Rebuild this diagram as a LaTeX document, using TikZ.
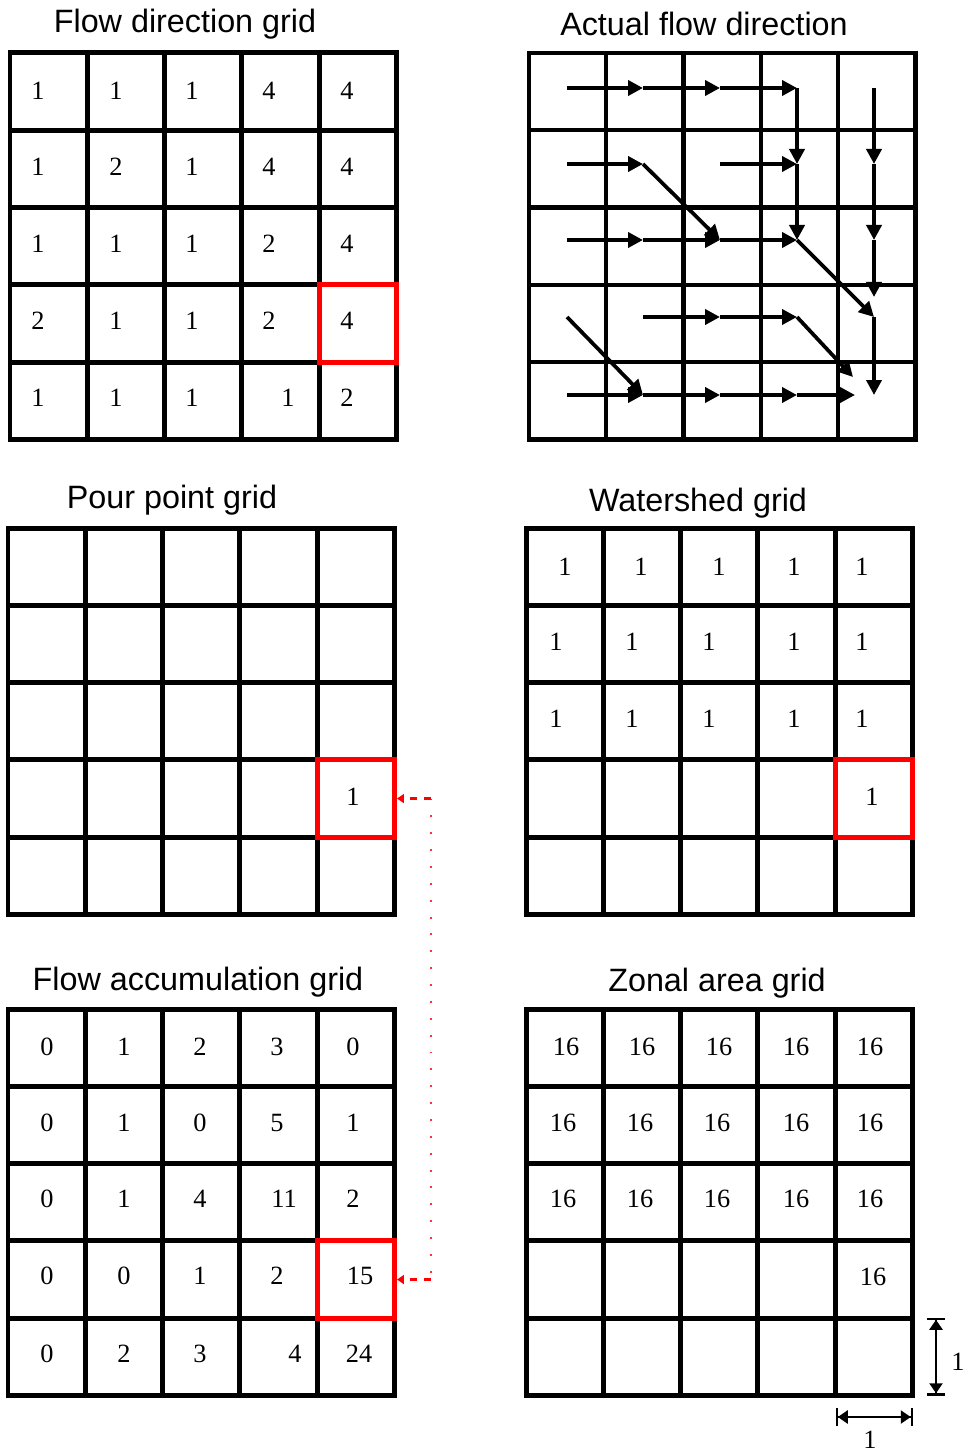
\documentclass[tikz,border=0pt]{standalone}
\usepackage{fontspec}
\setmainfont{Liberation Serif}
\newfontfamily\titlefont{Liberation Sans}
\usetikzlibrary{arrows.meta,calc}
\definecolor{boxred}{RGB}{255,0,0}
\newcommand{\cellsz}{77.3}
\newcommand{\fivegrid}[3][]{%
  \foreach \i in {0,...,5}{
    \draw[gridln,#1] ({#2+\i*\cellsz},#3) -- ({#2+\i*\cellsz},{#3+5*\cellsz});
    \draw[gridln,#1] (#2,{#3+\i*\cellsz}) -- ({#2+5*\cellsz},{#3+\i*\cellsz});
  }}
\newcommand{\numrow}[3]{%
  \foreach \xx/\vv [count=\cc] in {#3}{
    \node[num] (#1-\cc) at (\xx,#2) {\vv};
  }}
\begin{document}
\begin{tikzpicture}[x=0.02cm,y=-0.02cm,
  gridln/.style={line width=0.1cm,line cap=rect},
  thingrid/.style={line width=0.085cm},
  num/.style={font=\fontsize{15}{16}\selectfont,inner sep=0pt},
  ttl/.style={font=\titlefont\fontsize{18.4}{20}\selectfont,anchor=base,inner sep=0pt},
  redbox/.style={draw=boxred,line width=0.1cm,minimum size=1.546cm,inner sep=0pt},
  flow/.style={line width=0.075cm,-{Triangle[length=0.3cm,width=0.3cm]}},
  reddash/.style={draw=boxred,line width=1.5pt,dash pattern=on 4pt off 4pt,
     -{Triangle[length=0.14cm,width=0.18cm,sep=0pt]}},
  reddot/.style={draw=boxred!80,line width=1.2pt,dash pattern=on 1.1pt off 8.5pt},
  scalebar/.style={line width=0.045cm,
     {Bar[width=0.36cm,line width=0.045cm]Triangle[length=0.2cm,width=0.26cm]}-{Triangle[length=0.2cm,width=0.26cm]Bar[width=0.36cm,line width=0.045cm]}}]
\useasboundingbox (0,0) rectangle (969,1452);

% titles
\node[ttl] (t1) at (185,33) {Flow direction grid};
\node[ttl] (t2) at (704,36) {Actual flow direction};
\node[ttl] (t3) at (172,508) {Pour point grid};
\node[ttl] (t4) at (698,511) {Watershed grid};
\node[ttl] (t5) at (198,990) {Flow accumulation grid};
\node[ttl] (t6) at (717,991) {Zonal area grid};

% grids
\fivegrid{10}{53}
\fivegrid[thingrid]{529}{53}
\fivegrid{8}{528}
\fivegrid{526}{528}
\fivegrid{8}{1009}
\fivegrid{526}{1009}

% red boxes
\node[redbox] (rb1) at (357.85,323.55) {};
\node[redbox] (rb3) at (355.85,798.55) {};
\node[redbox] (rb4) at (873.85,798.55) {};
\node[redbox] (rb5) at (355.85,1279.55) {};

% flow direction numbers
\numrow{g1r1}{91}{38/1,116/1,192/1,269/4,347/4}
\numrow{g1r2}{167}{38/1,116/2,192/1,269/4,347/4}
\numrow{g1r3}{244}{38/1,116/1,192/1,269/2,347/4}
\numrow{g1r4}{321}{38/2,116/1,192/1,269/2,347/4}
\numrow{g1r5}{398}{38/1,116/1,192/1,288/1,347/2}

% pour point
\node[num] (g3n) at (353,797) {1};

% watershed
\numrow{g4r1}{567}{565/1,641/1,719/1,794/1,862/1}
\numrow{g4r2}{642}{556/1,632/1,709/1,794/1,862/1}
\numrow{g4r3}{719}{556/1,632/1,709/1,794/1,862/1}
\node[num] (g4n) at (872,797) {1};

% flow accumulation
\numrow{g5r1}{1047}{47/0,124/1,200/2,277/3,353/0}
\numrow{g5r2}{1123}{47/0,124/1,200/0,277/5,353/1}
\numrow{g5r3}{1199}{47/0,124/1,200/4,284/11,353/2}
\numrow{g5r4}{1276}{47/0,124/0,200/1,277/2,360/15}
\numrow{g5r5}{1354}{47/0,124/2,200/3,295/4,359/24}

% zonal area
\numrow{g6r1}{1047}{566/16,642/16,719/16,796/16,870/16}
\numrow{g6r2}{1123}{563/16,640/16,717/16,796/16,870/16}
\numrow{g6r3}{1199}{563/16,640/16,717/16,796/16,870/16}
\node[num] (g6n) at (873,1277) {16};

% actual flow arrows
\foreach \xx [count=\cc] in {567,643,720,797,874}{
  \foreach \yy [count=\rr] in {88,164,240,317,395}{
    \coordinate (a\rr\cc) at (\xx,\yy);
  }}
\coordinate (e1) at (874,297);
\coordinate (e2) at (853,377);
\coordinate (e3) at (855,395);
% row 1
\draw[flow] (a11) -- (a12);
\draw[flow] (a12) -- (a13);
\draw[flow] (a13) -- (a14);
\draw[flow] (a14) -- (a24);
\draw[flow] (a24) -- (a34);
% column 5
\draw[flow] (a15) -- (a25);
\draw[flow] (a25) -- (a35);
\draw[flow] (a35) -- (e1);
\draw[flow] (a45) -- (a55);
% row 2
\draw[flow] (a21) -- (a22);
\draw[flow] (a22) -- (a33);
\draw[flow] (a23) -- (a24);
% row 3
\draw[flow] (a31) -- (a32);
\draw[flow] (a32) -- (a33);
\draw[flow] (a33) -- (a34);
\draw[flow] (a34) -- (a45);
% row 4
\draw[flow] (a41) -- (a52);
\draw[flow] (a42) -- (a43);
\draw[flow] (a43) -- (a44);
\draw[flow] (a44) -- (e2);
% row 5
\draw[flow] (a51) -- (a52);
\draw[flow] (a52) -- (a53);
\draw[flow] (a53) -- (a54);
\draw[flow] (a54) -- (e3);

% red connector
\coordinate (c1) at ([xshift=0.68cm]rb3.east);
\coordinate (c2) at ([xshift=0.68cm]rb5.east);
\draw[reddot] (c1) -- (c2);
\draw[reddash] (c1) -- (rb3.east);
\draw[reddash] (c2) -- (rb5.east);

% scale bars
\coordinate (v1) at (936,1317.5);
\coordinate (v2) at (936,1395.5);
\draw[scalebar] (v1) -- (v2);
\node[num] (vl) at (958,1362) {1};
\coordinate (h1) at (835.5,1417);
\coordinate (h2) at (913,1417);
\draw[scalebar] (h1) -- (h2);
\node[num] (hl) at (870,1440) {1};
\end{tikzpicture}
\end{document}
